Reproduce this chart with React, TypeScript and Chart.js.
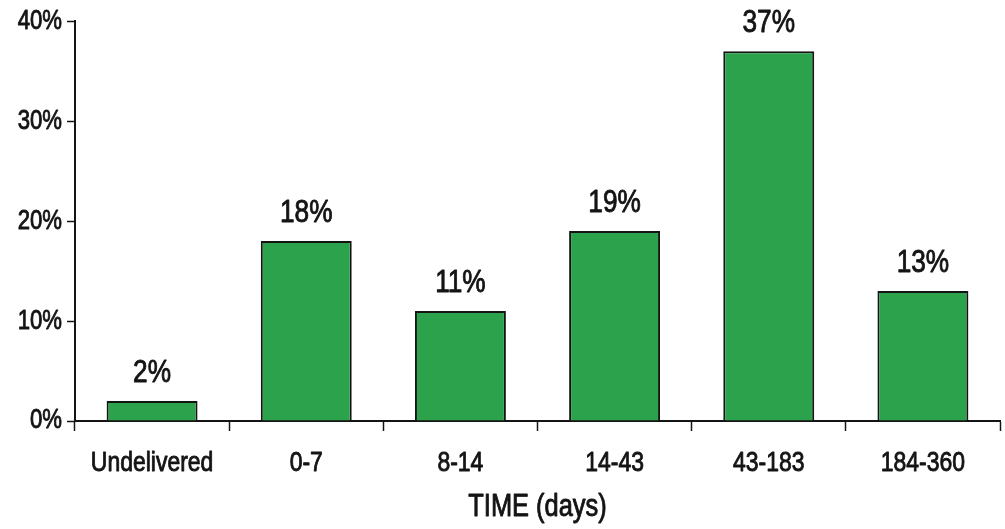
import React, { useEffect, useRef } from "react";
import { Chart, registerables } from "chart.js";

Chart.register(...registerables);

const categories = ["Undelivered", "0-7", "8-14", "14-43", "43-183", "184-360"];
const shares = [2, 18, 11, 19, 37, 13];
const yTicks = [0, 10, 20, 30, 40];
const xTitle = "TIME (days)";

const FONT = "'Liberation Sans', Arial, sans-serif";
const INK = "#141414";
const BAR_GREEN = "#2ca24d";
// horizontal squeeze and a light outline on every glyph run, giving a condensed medium face
const TEXT_SQUEEZE = 0.82;
const TEXT_OUTLINE = 0.9;

const valueLabels = {
  id: "valueLabels",
  afterDatasetsDraw(chart: any) {
    const ctx = chart.ctx;
    const meta = chart.getDatasetMeta(0);
    ctx.save();
    ctx.font = `32px ${FONT}`;
    ctx.fillStyle = INK;
    ctx.textAlign = "center";
    ctx.textBaseline = "middle";
    meta.data.forEach((bar: any, i: number) => {
      ctx.fillText(`${shares[i]}%`, bar.x, bar.y - 28);
    });
    ctx.restore();
  },
};

function condenseText(ctx: CanvasRenderingContext2D) {
  const baseFill = ctx.fillText.bind(ctx);
  const baseStroke = ctx.strokeText.bind(ctx);
  (ctx as any).fillText = (text: string, x: number, y: number, maxWidth?: number) => {
    ctx.save();
    ctx.translate(x, y);
    ctx.scale(TEXT_SQUEEZE, 1);
    const mw = maxWidth === undefined ? undefined : maxWidth / TEXT_SQUEEZE;
    if (mw === undefined) baseFill(text, 0, 0);
    else baseFill(text, 0, 0, mw);
    ctx.strokeStyle = ctx.fillStyle;
    ctx.lineWidth = TEXT_OUTLINE;
    ctx.lineJoin = "round";
    if (mw === undefined) baseStroke(text, 0, 0);
    else baseStroke(text, 0, 0, mw);
    ctx.restore();
  };
}

export default function App() {
  const canvasRef = useRef<HTMLCanvasElement | null>(null);

  useEffect(() => {
    const canvas = canvasRef.current;
    if (!canvas) return;
    const ctx = canvas.getContext("2d");
    if (ctx) condenseText(ctx);
    const chart = new Chart(canvas, {
      type: "bar",
      data: {
        labels: categories,
        datasets: [
          {
            data: shares,
            backgroundColor: BAR_GREEN,
            borderColor: INK,
            borderWidth: 2,
            barPercentage: 0.59,
            categoryPercentage: 1,
          },
        ],
      },
      options: {
        animation: false,
        responsive: false,
        maintainAspectRatio: false,
        layout: { padding: { top: 21, right: 5, left: 0, bottom: 0 } },
        plugins: {
          legend: { display: false },
          tooltip: { enabled: false },
        },
        scales: {
          x: {
            offset: true,
            grid: {
              offset: true,
              drawOnChartArea: false,
              drawTicks: true,
              tickLength: 10,
              tickColor: INK,
              tickWidth: 1.5,
            },
            border: { color: INK, width: 2 },
            ticks: {
              color: INK,
              font: { family: FONT, size: 28 },
              padding: 15,
              maxRotation: 0,
              autoSkip: false,
            },
            title: {
              display: true,
              text: xTitle,
              color: INK,
              font: { family: FONT, size: 31 },
              padding: { top: 0, bottom: 3 },
            },
            afterFit(scale: any) {
              scale.height = 108;
            },
          },
          y: {
            min: yTicks[0],
            max: yTicks[yTicks.length - 1],
            afterBuildTicks(scale: any) {
              scale.ticks = yTicks.map((v) => ({ value: v }));
            },
            grid: {
              drawOnChartArea: false,
              drawTicks: true,
              tickLength: 8,
              tickColor: INK,
              tickWidth: 1.5,
            },
            border: { color: INK, width: 2 },
            ticks: {
              color: INK,
              font: { family: FONT, size: 27 },
              padding: 5,
              callback: (v: any) => `${v}%`,
            },
            afterFit(scale: any) {
              scale.width = 75;
            },
          },
        },
      },
      plugins: [valueLabels],
    });
    return () => chart.destroy();
  }, []);

  return (
    <div style={{ position: "fixed", left: 0, top: 0, width: 1005, height: 529, background: "#fff" }}>
      <canvas ref={canvasRef} width={1005} height={529} style={{ display: "block" }} />
    </div>
  );
}
